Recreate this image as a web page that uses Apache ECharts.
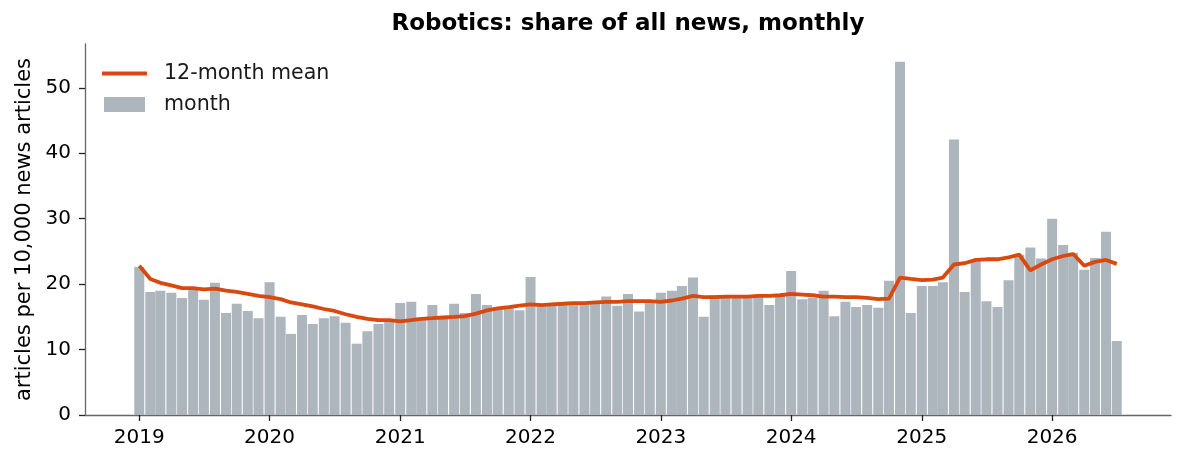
<!DOCTYPE html>
<html lang="en">
<head>
    <meta charset="utf-8">
    <title>Robotics: share of all news, monthly</title>
    <script src="https://cdn.jsdelivr.net/npm/echarts@6/dist/echarts.min.js"></script>
    <style type="text/css">
        html, body { margin: 0; padding: 0; background: #fff; }
        #main { width: 1185px; height: 465px; }
    </style>
</head>
<body>
    <div id="main"></div>
    <script type="text/javascript">
        // first month of the series, one value per month after that
        var startYear = 2019;
        var years = ['2019', '2020', '2021', '2022', '2023', '2024', '2025', '2026'];
        var yTicks = [0, 10, 20, 30, 40, 50];

        // articles per 10,000 news articles, by month
        var monthly = [
            22.6, 18.8, 19.0, 18.7, 17.9, 19.1, 17.6, 20.2, 15.6, 17.0, 15.9, 14.8, // 2019
            20.3, 15.0, 12.4, 15.3, 13.9, 14.8, 15.1, 14.1, 10.9, 12.8, 13.9, 14.2, // 2020
            17.1, 17.3, 14.9, 16.8, 14.8, 17.0, 15.6, 18.5, 16.8, 16.2, 16.4, 16.0, // 2021
            21.1, 16.6, 16.7, 17.0, 17.1, 17.2, 17.3, 18.1, 16.7, 18.5, 15.8, 17.3, // 2022
            18.7, 19.0, 19.7, 21.0, 15.0, 18.3, 18.1, 18.2, 18.2, 18.2, 16.8, 18.2, // 2023
            22.0, 17.7, 17.9, 19.0, 15.1, 17.3, 16.5, 16.8, 16.4, 20.5, 54.0, 15.6, // 2024
            19.7, 19.7, 20.3, 42.1, 18.8, 23.6, 17.4, 16.5, 20.6, 24.5, 25.6, 23.9, // 2025
            30.0, 26.0, 24.8, 22.2, 24.0, 28.0, 11.3                                // 2026
        ];

        // 12-month mean
        var rolling = [
            22.8, 20.8, 20.2, 19.8, 19.4, 19.4, 19.2, 19.3, 19.0, 18.8, 18.5, 18.2,
            18.0, 17.7, 17.2, 16.9, 16.6, 16.2, 15.9, 15.4, 15.0, 14.7, 14.5, 14.5,
            14.3, 14.5, 14.7, 14.8, 14.9, 15.0, 15.1, 15.5, 16.0, 16.3, 16.5, 16.7,
            16.9, 16.8, 16.9, 17.0, 17.1, 17.1, 17.2, 17.3, 17.3, 17.4, 17.4, 17.4,
            17.3, 17.5, 17.8, 18.2, 18.0, 18.0, 18.1, 18.1, 18.1, 18.2, 18.2, 18.3,
            18.5, 18.4, 18.3, 18.1, 18.1, 18.0, 18.0, 17.9, 17.7, 17.8, 21.0, 20.8,
            20.6, 20.7, 21.0, 23.0, 23.2, 23.7, 23.8, 23.8, 24.1, 24.5, 22.1, 23.0,
            23.8, 24.3, 24.6, 22.8, 23.4, 23.7, 23.1
        ];

        function monthTs(i) {
            return Date.UTC(startYear + Math.floor(i / 12), i % 12, 1);
        }

        var barData = monthly.map(function (v, i) { return [monthTs(i), v]; });
        var lineData = rolling.map(function (v, i) { return [monthTs(i), v]; });
        var yearTs = years.map(function (y) { return Date.UTC(+y, 0, 1); });

        var font = 'DejaVu Sans';
        var chart = echarts.init(document.getElementById('main'), null, { renderer: 'canvas' });

        var option = {
            animation: false,
            backgroundColor: '#ffffff',
            textStyle: { fontFamily: font },
            title: {
                text: 'Robotics: share of all news, monthly',
                left: 628,
                top: 13,
                padding: 0,
                textAlign: 'center',
                textStyle: { fontFamily: font, fontSize: 23, fontWeight: 'bold', color: '#000' }
            },
            legend: [
                {
                    data: [{ name: '12-month mean', icon: 'rect' }],
                    left: 102, top: 63, padding: 0,
                    itemWidth: 45, itemHeight: 4,
                    textStyle: { fontFamily: font, fontSize: 20.6, color: '#1a1a1a', padding: [0, 0, 0, 12] }
                },
                {
                    data: [{ name: 'month', icon: 'rect' }],
                    left: 104, top: 94, padding: 0,
                    itemWidth: 41, itemHeight: 15,
                    textStyle: { fontFamily: font, fontSize: 20.6, color: '#1a1a1a', padding: [0, 0, 0, 14] }
                }
            ],
            grid: { left: 85, right: 14, top: 44, bottom: 50 },
            xAxis: {
                type: 'value',
                min: Date.UTC(2018, 7, 2),
                max: Date.UTC(2026, 10, 30),
                axisLine: { show: true, onZero: false, lineStyle: { color: '#666', width: 1.3 } },
                axisTick: { show: true, length: 6, customValues: yearTs, lineStyle: { color: '#222', width: 1.3 } },
                axisLabel: {
                    customValues: yearTs,
                    margin: 13,
                    fontSize: 20,
                    color: '#000',
                    fontFamily: font,
                    formatter: function (v) { return String(new Date(v).getUTCFullYear()); }
                },
                splitLine: { show: false }
            },
            yAxis: {
                type: 'value',
                min: 0,
                max: 56.7,
                name: 'articles per 10,000 news articles',
                nameLocation: 'middle',
                nameGap: 50,
                nameTextStyle: { fontFamily: font, fontSize: 21, color: '#000' },
                axisLine: { show: true, onZero: false, lineStyle: { color: '#666', width: 1.3 } },
                axisTick: { show: true, length: 6, customValues: yTicks, lineStyle: { color: '#222', width: 1.3 } },
                axisLabel: { customValues: yTicks, margin: 14, fontSize: 20, color: '#000', fontFamily: font },
                splitLine: { show: false }
            },
            series: [
                {
                    name: 'month',
                    type: 'bar',
                    data: barData,
                    barWidth: 10,
                    itemStyle: { color: '#adb5bd' },
                    z: 1
                },
                {
                    name: '12-month mean',
                    type: 'line',
                    data: lineData,
                    symbol: 'none',
                    color: '#d9480f',
                    lineStyle: { color: '#d9480f', width: 3.8 },
                    itemStyle: { color: '#d9480f' },
                    z: 3
                }
            ]
        };

        chart.setOption(option);
    </script>
</body>
</html>
